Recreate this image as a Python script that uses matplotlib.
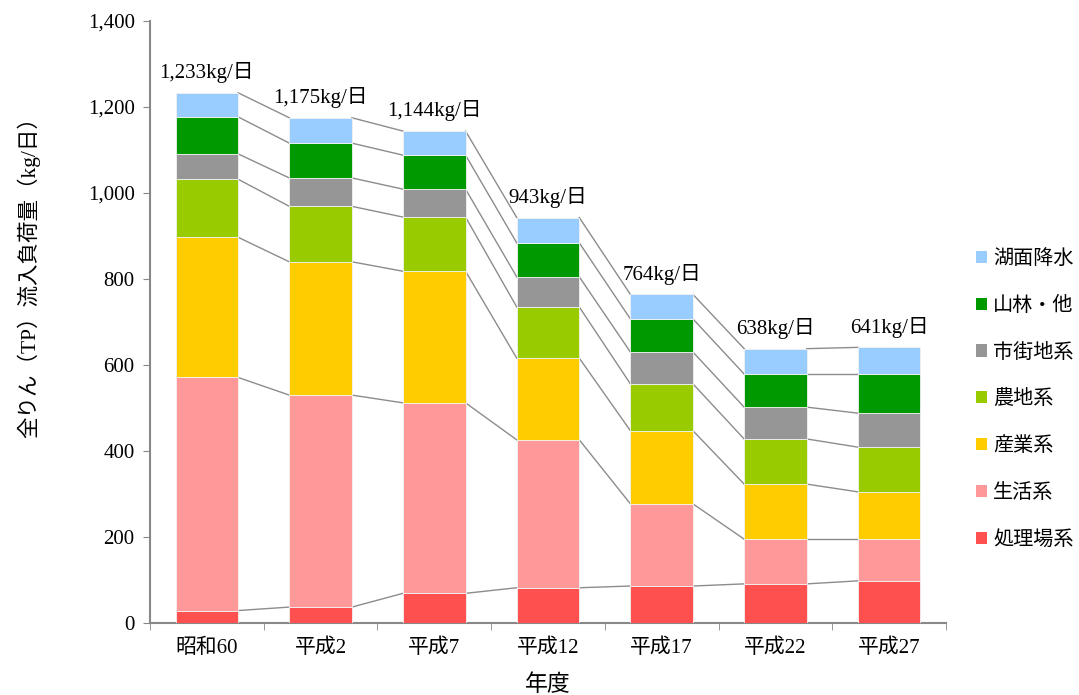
import numpy as np
import matplotlib
matplotlib.use("Agg")
import matplotlib.pyplot as plt
from matplotlib.patches import Patch

plt.rcParams['font.family'] = ['Liberation Serif', 'Noto Sans CJK JP']

# 年度
years = ["昭和60", "平成2", "平成7", "平成12", "平成17", "平成22", "平成27"]

# 発生源別 流入負荷量 (kg/日)
shoriba = [29, 37, 69, 82, 86, 91, 98]
seikatsu = [542, 493, 443, 344, 191, 104, 97]
sangyo = [326, 310, 306, 190, 170, 128, 110]
nochi = [135, 129, 126, 119, 109, 105, 104]
shigaichi = [59, 66, 65, 70, 74, 74, 79]
sanrin = [86, 81, 79, 79, 77, 77, 91]
komen = [56, 59, 56, 59, 57, 59, 62]

names = ["処理場系", "生活系", "産業系", "農地系", "市街地系", "山林・他", "湖面降水"]
colors = ["#FF5050", "#FF9999", "#FFCC00", "#99CC00", "#969696", "#009900", "#99CCFF"]

series = [shoriba, seikatsu, sangyo, nochi, shigaichi, sanrin, komen]

fig = plt.figure(figsize=(10.79, 6.95), dpi=100)
ax = fig.add_axes([150 / 1079, 72 / 695, 796 / 1079, 602 / 695])

x = np.arange(len(years))
w = 0.55
bottom = np.zeros(len(years))
tops = []
for vals, c in zip(series, colors):
    v = np.array(vals, dtype=float)
    ax.bar(x, v, w, bottom=bottom, color=c, edgecolor="#f2f2f2", linewidth=0.6, zorder=3)
    bottom = bottom + v
    tops.append(bottom.copy())

# 棒と棒をつなぐ線
for lvl in tops:
    for i in range(len(years) - 1):
        ax.plot([x[i] + w / 2, x[i + 1] - w / 2], [lvl[i], lvl[i + 1]],
                color="#8c8c8c", lw=1.0, zorder=2)

# 合計ラベル
for i, t in enumerate(bottom):
    ax.annotate(f"{int(t):,}kg/日", (x[i], t), xytext=(0, 7), textcoords="offset points",
                ha="center", va="bottom", fontsize=15)

ax.set_xlim(-0.5, len(years) - 0.5)
ax.set_ylim(0, 1400)
ax.set_yticks(np.arange(0, 1401, 200))
ax.set_yticklabels([f"{v:,}" for v in range(0, 1401, 200)], fontsize=15)
ax.set_xticks(x)
ax.set_xticklabels(years, fontsize=15)
ax.set_xticks(np.arange(-0.5, len(years), 1), minor=True)
ax.tick_params(axis="x", which="major", length=0, pad=11)
ax.tick_params(axis="x", which="minor", length=5, color="#888888")
ax.tick_params(axis="y", length=5, color="#888888", pad=6)

for s in ["top", "right"]:
    ax.spines[s].set_visible(False)
for s in ["left", "bottom"]:
    ax.spines[s].set_color("#888888")
    ax.spines[s].set_linewidth(1.5)

ax.set_xlabel("年度", fontsize=16.5, labelpad=12)
fig.text(28 / 1079, 1 - 272 / 695, "全りん（TP）流入負荷量（kg/日）", rotation=90,
         ha="center", va="center", fontsize=15.5)

handles = [Patch(facecolor=c, label=n) for n, c in zip(names, colors)][::-1]
fig.legend(handles=handles, loc="upper left", bbox_to_anchor=(976 / 1079, 1 - 250 / 695),
           frameon=False, fontsize=14.5, handlelength=0.55, handleheight=0.55,
           handletextpad=0.3, labelspacing=1.38, borderpad=0, borderaxespad=0)

fig.savefig("out.png", dpi=100)
